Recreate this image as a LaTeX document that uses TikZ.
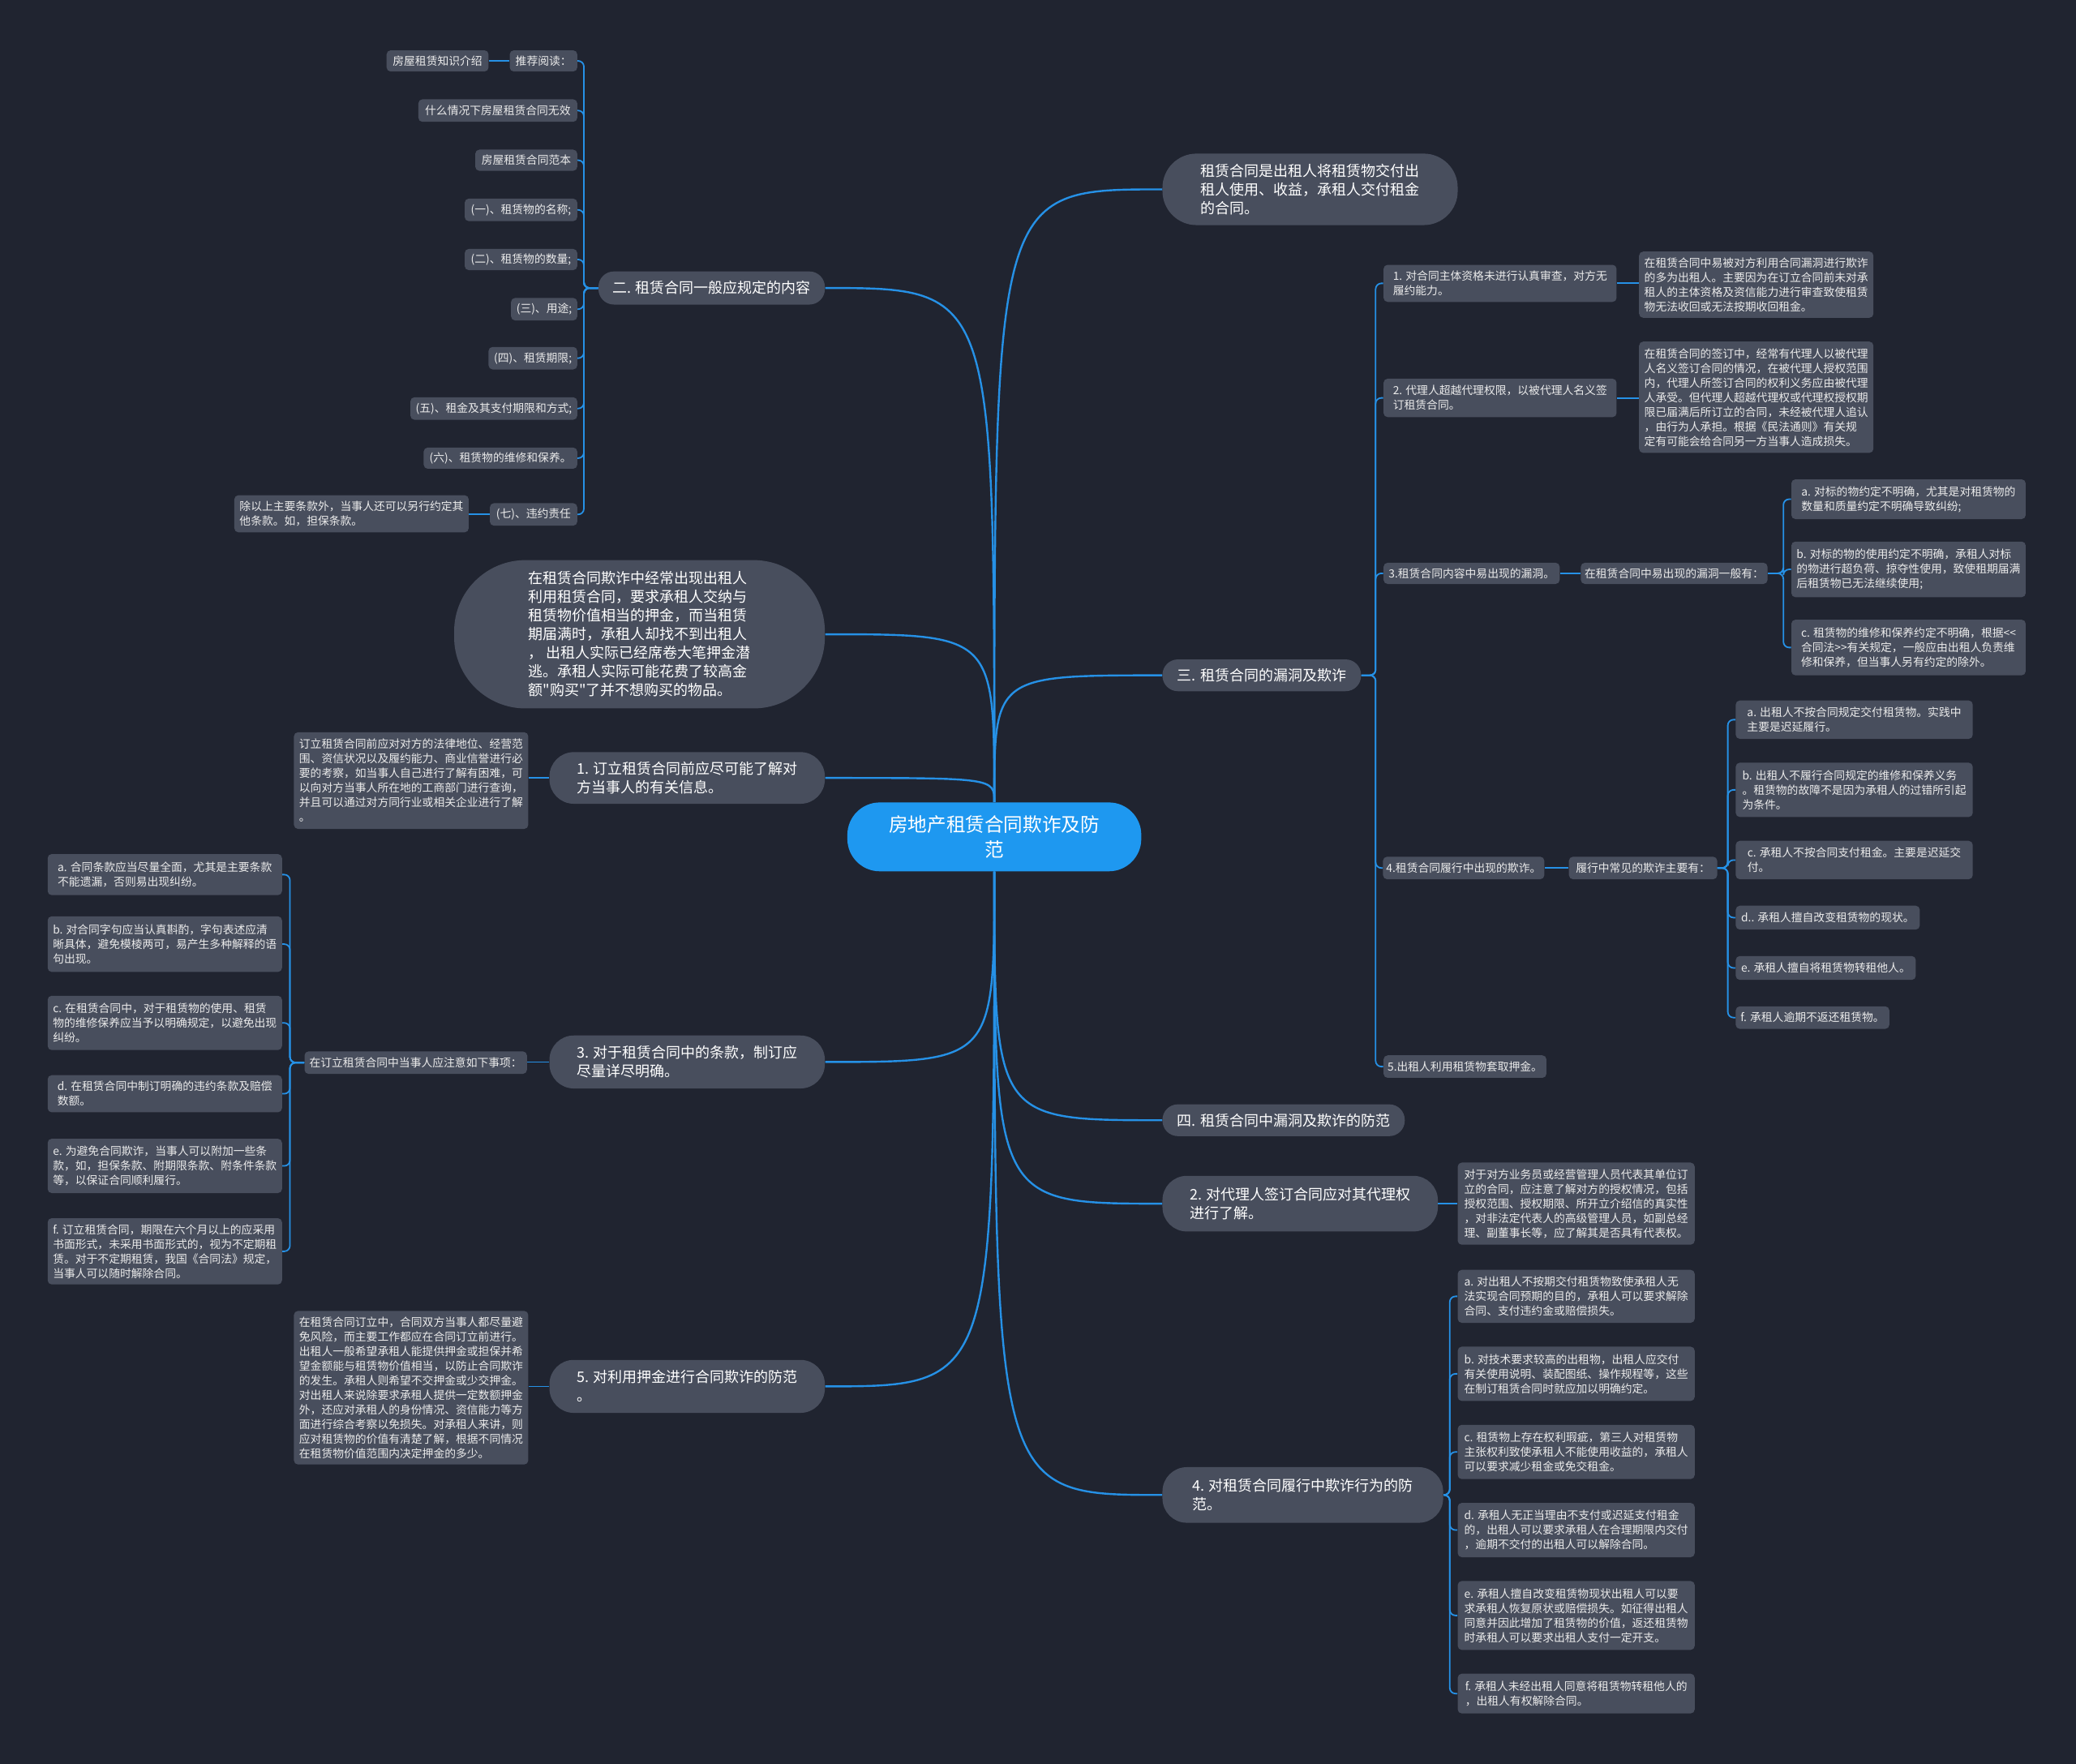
\documentclass[tikz,border=0pt]{standalone}
\usepackage{fontspec}
\newfontfamily\cjk{Noto Sans CJK SC}
\usepackage{tikz}

\definecolor{bgdark}{RGB}{32,36,48}
\definecolor{boxgrey}{RGB}{72,78,93}
\definecolor{mapblue}{RGB}{30,152,240}
\definecolor{linkblue}{RGB}{38,145,230}

\tikzset{
  root/.style={fill=mapblue,text=white,align=center,rounded corners=20pt,font=\cjk\fontsize{11.8}{15.8}\selectfont},
  branch/.style={fill=boxgrey,text=white,align=left,inner sep=3pt,font=\cjk\fontsize{9}{11.5}\selectfont},
  pill/.style={branch,rounded corners=#1},
  leaf/.style={fill=boxgrey,text=white!92!black,align=left,inner sep=2pt,rounded corners=2.5pt,font=\cjk\fontsize{6.9}{9}\selectfont},
  wh/.style 2 args={minimum width=#1*0.8163pt,minimum height=#2*0.8163pt},
  link/.style={draw=linkblue,line width=1.2pt},
  sub/.style={draw=linkblue,line width=0.9pt,rounded corners=3.5pt}
}

\begin{document}
\begin{tikzpicture}[x=0.8163pt,y=-0.8163pt]
  \useasboundingbox (0,0) rectangle (1568,1332);
  \fill[bgdark] (0,0) rectangle (1568,1332);

  % centre
  \node[root,wh={222}{52}] (root) at (751,632) {房地产租赁合同欺诈及防\\范};

  % right main branches
  \node[pill=21pt,wh={223}{54}] (r1) at (989.5,143) {租赁合同是出租人将租赁物交付出\\租人使用、收益，承租人交付租金\\的合同。};
  \node[pill=9.5pt,wh={150}{24}] (r2) at (953,510) {三. 租赁合同的漏洞及欺诈};
  \node[pill=9.5pt,wh={183}{24}] (r3) at (969.5,846) {四. 租赁合同中漏洞及欺诈的防范};
  \node[pill=15pt,wh={208}{42}] (r4) at (982,909) {2. 对代理人签订合同应对其代理权\\进行了解。};
  \node[pill=15pt,wh={212}{42}] (r5) at (984,1129) {4. 对租赁合同履行中欺诈行为的防\\范。};

  % left main branches
  \node[pill=9.5pt,wh={171}{25}] (l1) at (537.5,217.5) {二. 租赁合同一般应规定的内容};
  \node[pill=44pt,wh={280}{112}] (l2) at (483,479) {在租赁合同欺诈中经常出现出租人\\利用租赁合同，要求承租人交纳与\\租赁物价值相当的押金，而当租赁\\期届满时，承租人却找不到出租人\\， 出租人实际已经席卷大笔押金潜\\逃。承租人实际可能花费了较高金\\额"购买"了并不想购买的物品。};
  \node[pill=15pt,wh={208}{39}] (l3) at (519,587.5) {1. 订立租赁合同前应尽可能了解对\\方当事人的有关信息。};
  \node[pill=15pt,wh={208}{40}] (l4) at (519,802) {3. 对于租赁合同中的条款，制订应\\尽量详尽明确。};
  \node[pill=15pt,wh={208}{40}] (l5) at (519,1047) {5. 对利用押金进行合同欺诈的防范\\。};

  \foreach \b in {r1,r2}
    \draw[link] (root.north) .. controls (root.north |- \b.west) .. (\b.west);
  \foreach \b in {r3,r4,r5}
    \draw[link] (root.south) .. controls (root.south |- \b.west) .. (\b.west);
  \foreach \b in {l1,l2,l3}
    \draw[link] (root.north) .. controls (root.north |- \b.east) .. (\b.east);
  \foreach \b in {l4,l5}
    \draw[link] (root.south) .. controls (root.south |- \b.east) .. (\b.east);

  % contents of the contract
  \node[leaf,wh={51}{16}] (k0) at (410.5,46) {推荐阅读：};
  \node[leaf,wh={77}{16}] (k0a) at (330.5,46) {房屋租赁知识介绍};
  \node[leaf,wh={120}{17}] (k1) at (376,83.5) {什么情况下房屋租赁合同无效};
  \node[leaf,wh={77}{16}] (k2) at (397.5,121) {房屋租赁合同范本};
  \node[leaf,wh={85}{17}] (k3) at (393.5,158.5) {(一)、租赁物的名称;};
  \node[leaf,wh={85}{16}] (k4) at (393.5,196) {(二)、租赁物的数量;};
  \node[leaf,wh={50}{17}] (k5) at (411,233.5) {(三)、用途;};
  \node[leaf,wh={67}{17}] (k6) at (402.5,270.5) {(四)、租赁期限;};
  \node[leaf,wh={126}{17}] (k7) at (373,308.5) {(五)、租金及其支付期限和方式;};
  \node[leaf,wh={116}{16}] (k8) at (378,346) {(六)、租赁物的维修和保养。};
  \node[leaf,wh={66}{17}] (k9) at (403,388.5) {(七)、违约责任};
  \node[leaf,wh={177}{28}] (k9a) at (265.5,388) {除以上主要条款外，当事人还可以另行约定其\\他条款。如，担保条款。};
  \coordinate (j1) at (441,217.5);
  \foreach \c in {k0,k1,k2,k3,k4,k5,k6,k7,k8,k9}
    \draw[sub] (l1.west) -- (j1) |- (\c.east);
  \draw[sub] (k0.west) -- (k0.west -| k0a.east);
  \draw[sub] (k9.west) -- (k9.west -| k9a.east);

  % know the other party
  \node[leaf,wh={177}{73}] (m1) at (310.5,589.5) {订立租赁合同前应对对方的法律地位、经营范\\围、资信状况以及履约能力、商业信誉进行必\\要的考察，如当事人自己进行了解有困难，可\\以向对方当事人所在地的工商部门进行查询，\\并且可以通过对方同行业或相关企业进行了解\\。};
  \draw[sub] (l3.west) -- (l3.west -| m1.east);

  % clauses
  \node[leaf,wh={168}{17}] (n0) at (314,802.5) {在订立租赁合同中当事人应注意如下事项：};
  \node[leaf,wh={177}{31}] (n1) at (124.5,660.5) {a. 合同条款应当尽量全面，尤其是主要条款\\不能遗漏，否则易出现纠纷。};
  \node[leaf,wh={177}{42}] (n2) at (124.5,713) {b. 对合同字句应当认真斟酌，字句表述应清\\晰具体，避免模棱两可，易产生多种解释的语\\句出现。};
  \node[leaf,wh={177}{41}] (n3) at (124.5,772.5) {c. 在租赁合同中，对于租赁物的使用、租赁\\物的维修保养应当予以明确规定，以避免出现\\纠纷。};
  \node[leaf,wh={177}{28}] (n4) at (124.5,826) {d. 在租赁合同中制订明确的违约条款及赔偿\\数额。};
  \node[leaf,wh={177}{41}] (n5) at (124.5,880.5) {e. 为避免合同欺诈，当事人可以附加一些条\\款，如，担保条款、附期限条款、附条件条款\\等，以保证合同顺利履行。};
  \node[leaf,wh={177}{50}] (n6) at (124.5,945) {f. 订立租赁合同，期限在六个月以上的应采用\\书面形式，未采用书面形式的，视为不定期租\\赁。对于不定期租赁，我国《合同法》规定，\\当事人可以随时解除合同。};
  \draw[sub] (l4.west) -- (l4.west -| n0.east);
  \coordinate (j4) at (219,802.5);
  \foreach \c in {n1,n2,n3,n4,n5,n6}
    \draw[sub] (n0.west) -- (j4) |- (\c.east);

  % deposit
  \node[leaf,wh={177}{116}] (p1) at (310.5,1048) {在租赁合同订立中，合同双方当事人都尽量避\\免风险，而主要工作都应在合同订立前进行。\\出租人一般希望承租人能提供押金或担保并希\\望金额能与租赁物价值相当，以防止合同欺诈\\的发生。承租人则希望不交押金或少交押金。\\对出租人来说除要求承租人提供一定数额押金\\外，还应对承租人的身份情况、资信能力等方\\面进行综合考察以免损失。对承租人来讲，则\\应对租赁物的价值有清楚了解，根据不同情况\\在租赁物价值范围内决定押金的多少。};
  \draw[sub] (l5.west) -- (l5.west -| p1.east);

  % loopholes and fraud
  \node[leaf,wh={176}{28}] (s1) at (1133,214) {1. 对合同主体资格未进行认真审查，对方无\\履约能力。};
  \node[leaf,wh={177}{50}] (s1a) at (1326.5,215) {在租赁合同中易被对方利用合同漏洞进行欺诈\\的多为出租人。主要因为在订立合同前未对承\\租人的主体资格及资信能力进行审查致使租赁\\物无法收回或无法按期收回租金。};
  \node[leaf,wh={176}{29}] (s2) at (1133,300.5) {2. 代理人超越代理权限，以被代理人名义签\\订租赁合同。};
  \node[leaf,wh={177}{84}] (s2a) at (1326.5,300) {在租赁合同的签订中，经常有代理人以被代理\\人名义签订合同的情况，在被代理人授权范围\\内，代理人所签订合同的权利义务应由被代理\\人承受。但代理人超越代理权或代理权授权期\\限已届满后所订立的合同，未经被代理人追认\\，由行为人承担。根据《民法通则》有关规\\定有可能会给合同另一方当事人造成损失。};
  \node[leaf,wh={133}{16}] (s3) at (1111.5,433) {3.租赁合同内容中易出现的漏洞。};
  \node[leaf,wh={141}{16}] (s3a) at (1264.5,433) {在租赁合同中易出现的漏洞一般有：};
  \node[leaf,wh={177}{30}] (s3b) at (1441.5,377) {a. 对标的物约定不明确，尤其是对租赁物的\\数量和质量约定不明确导致纠纷;};
  \node[leaf,wh={177}{42}] (s3c) at (1441.5,430) {b. 对标的物的使用约定不明确，承租人对标\\的物进行超负荷、掠夺性使用，致使租期届满\\后租赁物已无法继续使用;};
  \node[leaf,wh={177}{42}] (s3d) at (1441.5,489) {c. 租赁物的维修和保养约定不明确，根据<{}<\\合同法>{}>有关规定，一般应由出租人负责维\\修和保养，但当事人另有约定的除外。};
  \node[leaf,wh={121}{17}] (s4) at (1105.5,655.5) {4.租赁合同履行中出现的欺诈。};
  \node[leaf,wh={112}{17}] (s4a) at (1241,655.5) {履行中常见的欺诈主要有：};
  \node[leaf,wh={179}{29}] (s4b) at (1400.5,543.5) {a. 出租人不按合同规定交付租赁物。实践中\\主要是迟延履行。};
  \node[leaf,wh={179}{41}] (s4c) at (1400.5,596.5) {b. 出租人不履行合同规定的维修和保养义务\\。租赁物的故障不是因为承租人的过错所引起\\为条件。};
  \node[leaf,wh={179}{29}] (s4d) at (1400.5,649.5) {c. 承租人不按合同支付租金。主要是迟延交\\付。};
  \node[leaf,wh={139}{18}] (s4e) at (1380.5,693) {d.. 承租人擅自改变租赁物的现状。};
  \node[leaf,wh={136}{18}] (s4f) at (1379,731) {e. 承租人擅自将租赁物转租他人。};
  \node[leaf,wh={116}{17}] (s4g) at (1369,768.5) {f. 承租人逾期不返还租赁物。};
  \node[leaf,wh={123}{17}] (s5) at (1106.5,805.5) {5.出租人利用租赁物套取押金。};
  \coordinate (j2) at (1039,510);
  \foreach \c in {s1,s2,s3,s4,s5}
    \draw[sub] (r2.east) -- (j2) |- (\c.west);
  \draw[sub] (s1.east) -- (s1.east -| s1a.west);
  \draw[sub] (s2.east) -- (s2.east -| s2a.west);
  \draw[sub] (s3.east) -- (s3.east -| s3a.west);
  \draw[sub] (s4.east) -- (s4.east -| s4a.west);
  \coordinate (j3) at (1347,433);
  \foreach \c in {s3b,s3c,s3d}
    \draw[sub] (s3a.east) -- (j3) |- (\c.west);
  \coordinate (j5) at (1305,655.5);
  \foreach \c in {s4b,s4c,s4d,s4e,s4f,s4g}
    \draw[sub] (s4a.east) -- (j5) |- (\c.west);

  % agent
  \node[leaf,wh={179}{62}] (t1) at (1190.5,909) {对于对方业务员或经营管理人员代表其单位订\\立的合同，应注意了解对方的授权情况，包括\\授权范围、授权期限、所开立介绍信的真实性\\，对非法定代表人的高级管理人员，如副总经\\理、副董事长等，应了解其是否具有代表权。};
  \draw[sub] (r4.east) -- (r4.east -| t1.west);

  % performance
  \node[leaf,wh={179}{40}] (u1) at (1190.5,979) {a. 对出租人不按期交付租赁物致使承租人无\\法实现合同预期的目的，承租人可以要求解除\\合同、支付违约金或赔偿损失。};
  \node[leaf,wh={179}{41}] (u2) at (1190.5,1037.5) {b. 对技术要求较高的出租物，出租人应交付\\有关使用说明、装配图纸、操作规程等，这些\\在制订租赁合同时就应加以明确约定。};
  \node[leaf,wh={179}{41}] (u3) at (1190.5,1096.5) {c. 租赁物上存在权利瑕疵，第三人对租赁物\\主张权利致使承租人不能使用收益的，承租人\\可以要求减少租金或免交租金。};
  \node[leaf,wh={179}{41}] (u4) at (1190.5,1155.5) {d. 承租人无正当理由不支付或迟延支付租金\\的，出租人可以要求承租人在合理期限内交付\\，逾期不交付的出租人可以解除合同。};
  \node[leaf,wh={179}{52}] (u5) at (1190.5,1220) {e. 承租人擅自改变租赁物现状出租人可以要\\求承租人恢复原状或赔偿损失。如征得出租人\\同意并因此增加了租赁物的价值，返还租赁物\\时承租人可以要求出租人支付一定开支。};
  \node[leaf,wh={179}{30}] (u6) at (1190.5,1279) {f. 承租人未经出租人同意将租赁物转租他人的\\，出租人有权解除合同。};
  \coordinate (j6) at (1095,1129);
  \foreach \c in {u1,u2,u3,u4,u5,u6}
    \draw[sub] (r5.east) -- (j6) |- (\c.west);
\end{tikzpicture}
\end{document}
